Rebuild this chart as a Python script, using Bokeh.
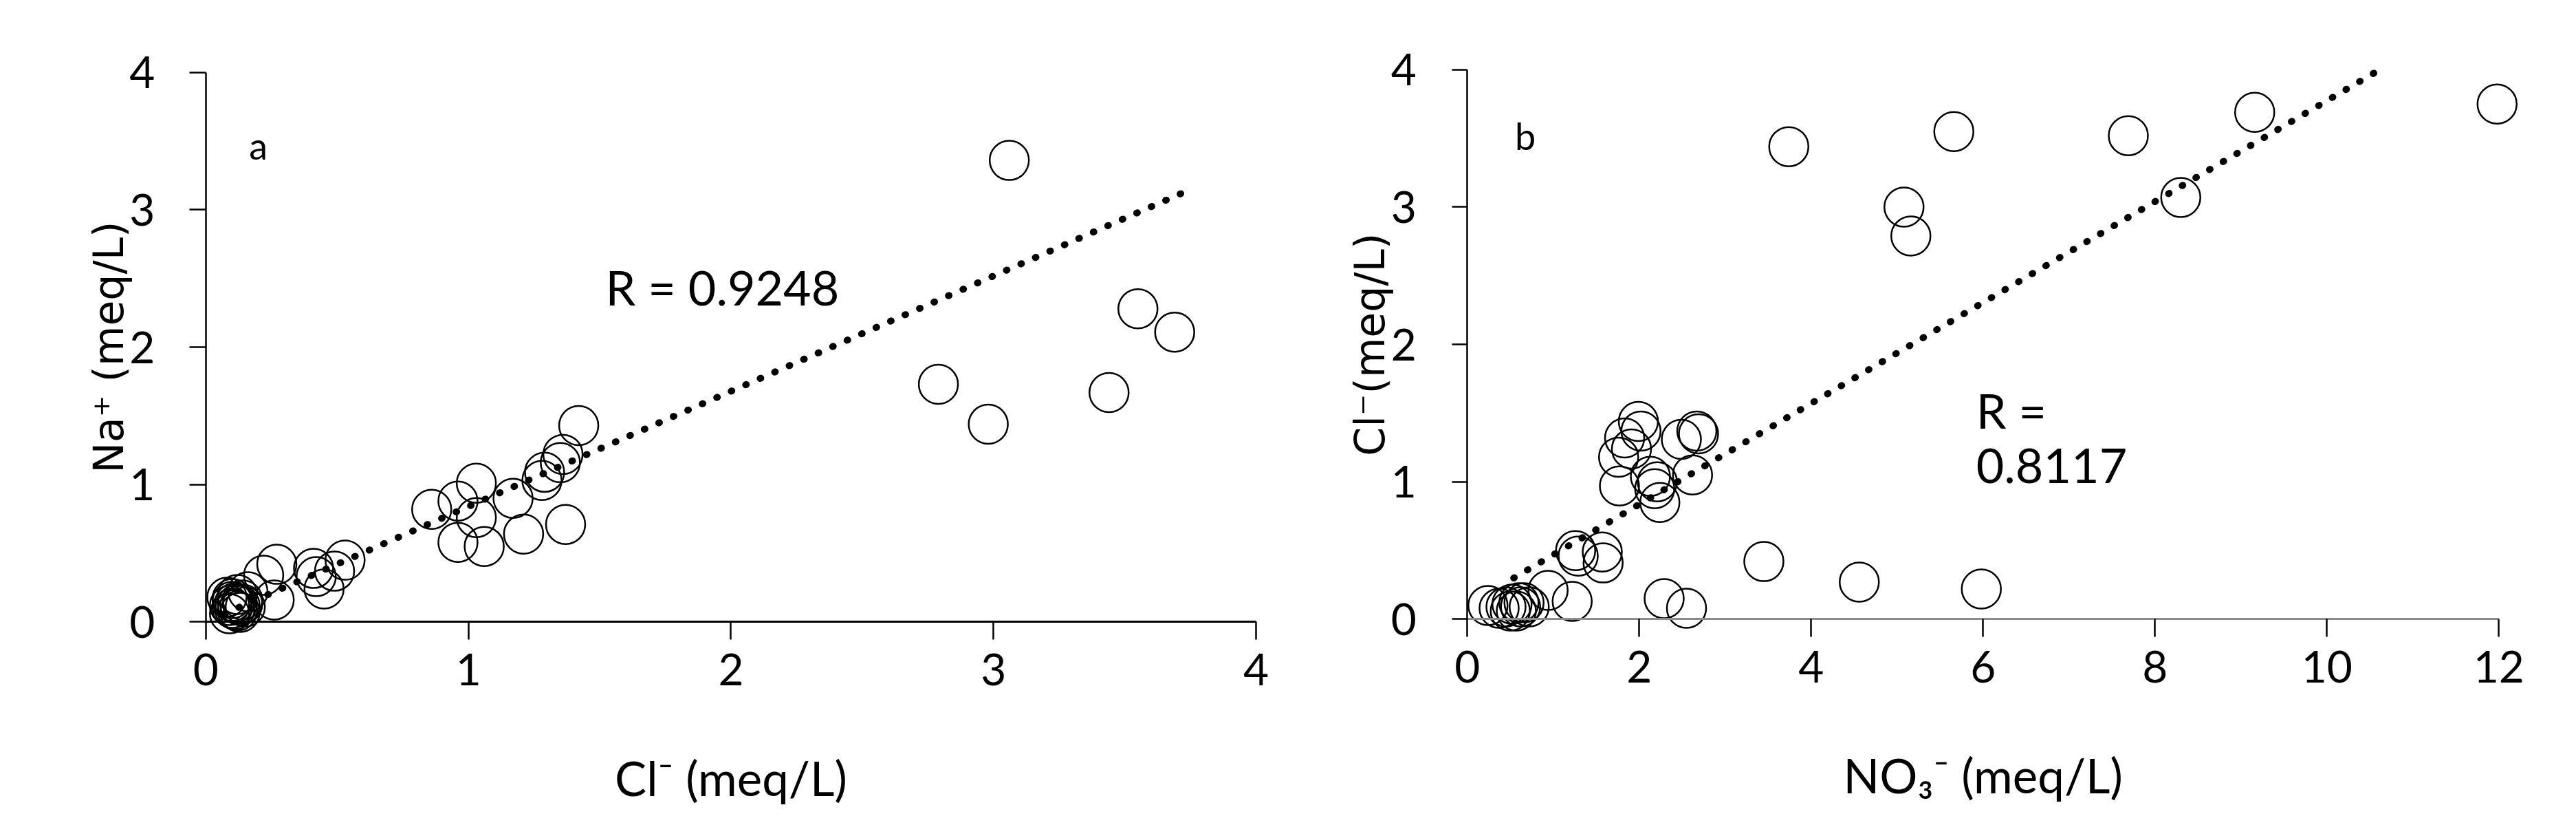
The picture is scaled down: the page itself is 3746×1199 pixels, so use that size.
import math
from bokeh.plotting import figure
from bokeh.models import Range1d, LinearAxis, FixedTicker
from bokeh.layouts import row
from bokeh.core.properties import value
from bokeh.embed import file_html
from bokeh.resources import INLINE

# ---------------- panel a : Na+ versus Cl- ----------------
cl_a = [0.08, 0.09, 0.09, 0.10, 0.11, 0.12, 0.12, 0.13, 0.14, 0.15, 0.10, 0.13, 0.11,
        0.10, 0.12, 0.14,
        0.16, 0.22, 0.27, 0.26,
        0.41, 0.42, 0.45, 0.53, 0.49,
        0.86, 0.96, 1.03, 1.03, 0.96, 1.06, 1.17, 1.21,
        1.28, 1.29, 1.35, 1.36, 1.42, 1.37,
        2.79, 2.98, 3.06, 3.44, 3.55, 3.69]
na_a = [0.18, 0.12, 0.06, 0.15, 0.09, 0.13, 0.20, 0.07, 0.16, 0.11, 0.10, 0.12, 0.14,
        0.17, 0.08, 0.13,
        0.22, 0.34, 0.42, 0.16,
        0.39, 0.33, 0.24, 0.45, 0.37,
        0.82, 0.88, 1.01, 0.76, 0.58, 0.55, 0.90, 0.64,
        1.03, 1.09, 1.16, 1.22, 1.43, 0.71,
        1.73, 1.44, 3.36, 1.67, 2.28, 2.11]
trend_a_x = [0.07, 3.74]
trend_a_y = [0.06, 3.14]
label_a = "a"
r_text_a = "R = 0.9248"
xlabel_a = "Cl\u207b (meq/L)"
ylabel_a = "Na\u207a (meq/L)"

# ---------------- panel b : Cl- versus NO3- ----------------
no3_b = [0.24, 0.37, 0.45, 0.52, 0.57, 0.62, 0.66, 0.72, 0.50, 0.60,
         0.94, 1.22,
         1.26, 1.29, 1.57, 1.58,
         1.99, 2.02, 1.83, 1.91, 1.76, 1.77, 2.13, 2.18, 2.24, 2.21, 2.49, 2.67, 2.69, 2.62,
         2.29, 2.55, 3.45, 4.56, 5.98,
         3.74, 5.08, 5.16, 5.66, 7.69, 8.30, 9.16, 11.98]
cl_b = [0.10, 0.08, 0.09, 0.11, 0.06, 0.09, 0.12, 0.09, 0.06, 0.12,
        0.21, 0.13,
        0.50, 0.46, 0.49, 0.41,
        1.44, 1.37, 1.32, 1.24, 1.18, 0.97, 1.04, 0.95, 0.85, 1.00, 1.31, 1.37, 1.35, 1.05,
        0.15, 0.08, 0.42, 0.27, 0.22,
        3.44, 3.00, 2.79, 3.55, 3.52, 3.07, 3.69, 3.75]
trend_b_x = [0.54, 10.56]
trend_b_y = [0.30, 3.98]
label_b = "b"
r_text_b = ["R =", "0.8117"]
xlabel_b = "NO\u2083\u207b (meq/L)"
ylabel_b = "Cl\u207b(meq/L)"

ticks_y = [0, 1, 2, 3, 4]
ticks_a_x = [0, 1, 2, 3, 4]
ticks_b_x = [0, 2, 4, 6, 8, 10, 12]

TICK_FONT = "Lato"
YLAB_FONT = "DejaVu Sans"


def make_panel(xs, ys, tx, ty, x_rng, y_rng, x_ticks, x_max, xaxis_color, tick_out_y):
    p = figure(width=1865, height=1183, output_backend="svg", toolbar_location=None,
               x_range=Range1d(*x_rng), y_range=Range1d(*y_rng),
               x_axis_location=None, y_axis_location=None,
               min_border=0, min_border_left=0, min_border_right=0,
               min_border_top=0, min_border_bottom=0)
    p.outline_line_color = None
    p.background_fill_color = "white"
    p.border_fill_color = "white"
    p.xgrid.visible = False
    p.ygrid.visible = False

    ya = LinearAxis(fixed_location=0, ticker=FixedTicker(ticks=ticks_y), bounds=(0, 4))
    ya.axis_line_width = 2.5
    ya.axis_line_color = "black"
    ya.major_tick_line_width = 2.5
    ya.major_tick_line_color = "black"
    ya.major_tick_out = tick_out_y
    ya.major_tick_in = 0
    ya.minor_tick_line_color = None
    ya.major_label_text_font = TICK_FONT
    ya.major_label_text_font_size = "64px"
    ya.major_label_text_color = "black"
    ya.major_label_standoff = 74 - tick_out_y
    p.add_layout(ya, "left")

    xa = LinearAxis(fixed_location=0, ticker=FixedTicker(ticks=x_ticks), bounds=(0, x_max))
    xa.axis_line_width = 3
    xa.axis_line_color = xaxis_color
    xa.major_tick_line_width = 2.5
    xa.major_tick_line_color = "black"
    xa.major_tick_out = 26
    xa.major_tick_in = 0
    xa.minor_tick_line_color = None
    xa.major_label_text_font = TICK_FONT
    xa.major_label_text_font_size = "64px"
    xa.major_label_text_color = "black"
    xa.major_label_standoff = 20
    p.add_layout(xa, "below")

    p.scatter(xs, ys, marker="circle", size=57, fill_color=None,
              line_color="black", line_width=2.5)
    p.line(tx, ty, line_color="black", line_width=10, line_dash="1 22",
           line_cap="round")
    return p


def add_axis_titles(p, xlabel, x_mid, ylabel, y_label_x):
    p.text([x_mid], [-1.134], text=[xlabel], text_font=value(TICK_FONT),
           text_font_size=value("69px"), text_align="center",
           text_baseline="alphabetic", text_color="black")
    p.text([y_label_x], [2.0], text=[ylabel], angle=math.pi / 2,
           text_font=value(YLAB_FONT), text_font_size=value("60px"),
           text_align="center", text_baseline="alphabetic", text_color="black")


pa = make_panel(cl_a, na_a, trend_a_x, trend_a_y, (-0.783, 4.102), (-1.40, 4.525),
                ticks_a_x, 4, "black", 24)
add_axis_titles(pa, xlabel_a, 2, ylabel_a, -0.370)
pa.text([0.20], [3.47], text=[label_a], text_font=value(TICK_FONT),
        text_font_size=value("54px"), text_align="center", text_baseline="middle",
        text_color="black")
pa.text([1.522], [2.44], text=[r_text_a], text_font=value(TICK_FONT),
        text_font_size=value("70px"), text_align="left", text_baseline="alphabetic",
        text_color="black")

pb = make_panel(no3_b, cl_b, trend_b_x, trend_b_y, (-2.146, 12.774), (-1.42, 4.505),
                ticks_b_x, 12, "#8c8c8c", 22)
add_axis_titles(pb, xlabel_b, 6, ylabel_b, -1.134)
pb.text([0.674], [3.52], text=[label_b], text_font=value(TICK_FONT),
        text_font_size=value("54px"), text_align="center", text_baseline="middle",
        text_color="black")
pb.text([5.92, 5.92], [1.52, 1.118], text=r_text_b, text_font=value(TICK_FONT),
        text_font_size=value("70px"), text_align="left", text_baseline="alphabetic",
        text_color="black")

layout = row(pa, pb)
open("out.html", "w").write(file_html(layout, INLINE))
